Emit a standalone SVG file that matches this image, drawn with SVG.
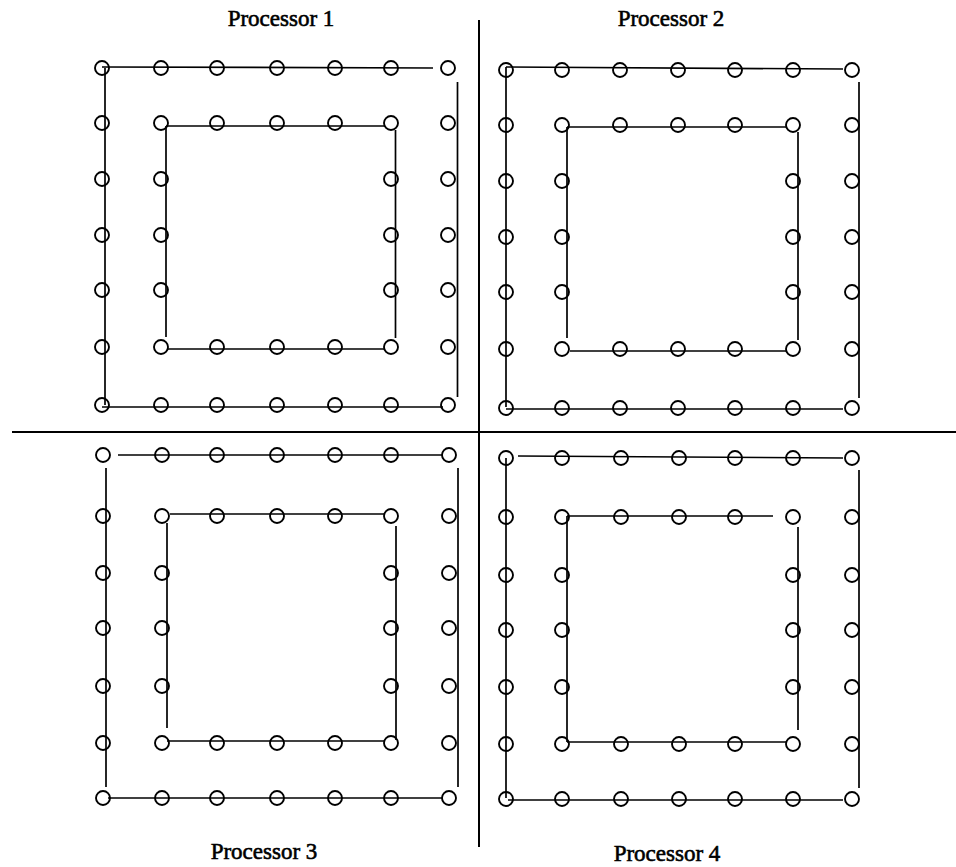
<svg xmlns="http://www.w3.org/2000/svg" width="956" height="867" viewBox="0 0 956 867">
<style>
.n{fill:none;stroke:#000;stroke-width:1.9}
.l{fill:none;stroke:#000;stroke-width:1.7}
.sep{fill:none;stroke:#000;stroke-width:2}
.t{font-family:"Liberation Serif","Times New Roman",serif;font-size:23px;fill:#000;stroke:#000;stroke-width:0.6;text-anchor:middle}
</style>
<rect width="956" height="867" fill="#fff"/>
<g id="separators">
<line class="sep" x1="479" y1="20" x2="479" y2="847"/>
<line class="sep" x1="12" y1="432" x2="956" y2="432"/>
</g>
<g id="connectors">
<line class="l" x1="102" y1="67" x2="433" y2="68"/>
<line class="l" x1="105" y1="68" x2="105" y2="405"/>
<line class="l" x1="457.5" y1="82" x2="457.5" y2="397"/>
<line class="l" x1="102" y1="407" x2="443" y2="407"/>
<line class="l" x1="166" y1="126" x2="385" y2="126"/>
<line class="l" x1="166" y1="126" x2="166" y2="337"/>
<line class="l" x1="168" y1="349" x2="385" y2="349"/>
<line class="l" x1="395.5" y1="130" x2="395.5" y2="338"/>
<line class="l" x1="506" y1="67" x2="843" y2="69"/>
<line class="l" x1="506" y1="67" x2="506" y2="407"/>
<line class="l" x1="859" y1="82" x2="859" y2="398"/>
<line class="l" x1="506" y1="409" x2="843" y2="409"/>
<line class="l" x1="567" y1="127" x2="787" y2="127"/>
<line class="l" x1="567" y1="127" x2="567" y2="338"/>
<line class="l" x1="570" y1="351" x2="787" y2="351"/>
<line class="l" x1="798" y1="132" x2="798" y2="340"/>
<line class="l" x1="118" y1="455" x2="443" y2="455"/>
<line class="l" x1="106" y1="468" x2="106" y2="787"/>
<line class="l" x1="458" y1="468" x2="458" y2="787"/>
<line class="l" x1="108" y1="798" x2="443" y2="798"/>
<line class="l" x1="170" y1="514" x2="385" y2="514"/>
<line class="l" x1="167" y1="523" x2="167" y2="728"/>
<line class="l" x1="167" y1="741" x2="385" y2="741"/>
<line class="l" x1="396" y1="526" x2="396" y2="740"/>
<line class="l" x1="518" y1="456" x2="843" y2="458"/>
<line class="l" x1="506" y1="458" x2="506" y2="798"/>
<line class="l" x1="859" y1="470" x2="859" y2="788"/>
<line class="l" x1="508" y1="800" x2="843" y2="800"/>
<line class="l" x1="567" y1="516" x2="773" y2="516"/>
<line class="l" x1="567" y1="516" x2="567" y2="742"/>
<line class="l" x1="567" y1="742" x2="787" y2="742"/>
<line class="l" x1="798" y1="527" x2="798" y2="730"/>
</g>
<g id="processor1">
<text class="t" x="281" y="26">Processor 1</text>
<g id="p1-outer">
<circle class="n" cx="102" cy="68" r="7"/><circle class="n" cx="161" cy="68" r="7"/><circle class="n" cx="217" cy="68" r="7"/><circle class="n" cx="277" cy="68" r="7"/><circle class="n" cx="335" cy="68" r="7"/><circle class="n" cx="391" cy="68" r="7"/><circle class="n" cx="448" cy="68" r="7"/>
<circle class="n" cx="102" cy="123" r="7"/><circle class="n" cx="102" cy="179" r="7"/><circle class="n" cx="102" cy="235" r="7"/><circle class="n" cx="102" cy="290" r="7"/><circle class="n" cx="102" cy="347" r="7"/>
<circle class="n" cx="448" cy="123" r="7"/><circle class="n" cx="448" cy="179" r="7"/><circle class="n" cx="448" cy="235" r="7"/><circle class="n" cx="448" cy="290" r="7"/><circle class="n" cx="448" cy="347" r="7"/>
<circle class="n" cx="102" cy="405" r="7"/><circle class="n" cx="161" cy="405" r="7"/><circle class="n" cx="217" cy="405" r="7"/><circle class="n" cx="277" cy="405" r="7"/><circle class="n" cx="335" cy="405" r="7"/><circle class="n" cx="391" cy="405" r="7"/><circle class="n" cx="448" cy="405" r="7"/>
</g>
<g id="p1-inner">
<circle class="n" cx="161" cy="123" r="7"/><circle class="n" cx="217" cy="123" r="7"/><circle class="n" cx="277" cy="123" r="7"/><circle class="n" cx="335" cy="123" r="7"/><circle class="n" cx="391" cy="123" r="7"/>
<circle class="n" cx="161" cy="179" r="7"/><circle class="n" cx="161" cy="235" r="7"/><circle class="n" cx="161" cy="290" r="7"/>
<circle class="n" cx="391" cy="179" r="7"/><circle class="n" cx="391" cy="235" r="7"/><circle class="n" cx="391" cy="290" r="7"/>
<circle class="n" cx="161" cy="347" r="7"/><circle class="n" cx="217" cy="347" r="7"/><circle class="n" cx="277" cy="347" r="7"/><circle class="n" cx="335" cy="347" r="7"/><circle class="n" cx="391" cy="347" r="7"/>
</g>
</g>
<g id="processor2">
<text class="t" x="671" y="26">Processor 2</text>
<g id="p2-outer">
<circle class="n" cx="506" cy="70" r="7"/><circle class="n" cx="562" cy="70" r="7"/><circle class="n" cx="620" cy="70" r="7"/><circle class="n" cx="678" cy="70" r="7"/><circle class="n" cx="735" cy="70" r="7"/><circle class="n" cx="793" cy="70" r="7"/><circle class="n" cx="852" cy="70" r="7"/>
<circle class="n" cx="506" cy="125" r="7"/><circle class="n" cx="506" cy="181" r="7"/><circle class="n" cx="506" cy="237" r="7"/><circle class="n" cx="506" cy="292" r="7"/><circle class="n" cx="506" cy="349" r="7"/>
<circle class="n" cx="852" cy="125" r="7"/><circle class="n" cx="852" cy="181" r="7"/><circle class="n" cx="852" cy="237" r="7"/><circle class="n" cx="852" cy="292" r="7"/><circle class="n" cx="852" cy="349" r="7"/>
<circle class="n" cx="506" cy="408" r="7"/><circle class="n" cx="562" cy="408" r="7"/><circle class="n" cx="620" cy="408" r="7"/><circle class="n" cx="678" cy="408" r="7"/><circle class="n" cx="735" cy="408" r="7"/><circle class="n" cx="793" cy="408" r="7"/><circle class="n" cx="852" cy="408" r="7"/>
</g>
<g id="p2-inner">
<circle class="n" cx="562" cy="125" r="7"/><circle class="n" cx="620" cy="125" r="7"/><circle class="n" cx="678" cy="125" r="7"/><circle class="n" cx="735" cy="125" r="7"/><circle class="n" cx="793" cy="125" r="7"/>
<circle class="n" cx="562" cy="181" r="7"/><circle class="n" cx="562" cy="237" r="7"/><circle class="n" cx="562" cy="292" r="7"/>
<circle class="n" cx="793" cy="181" r="7"/><circle class="n" cx="793" cy="237" r="7"/><circle class="n" cx="793" cy="292" r="7"/>
<circle class="n" cx="562" cy="349" r="7"/><circle class="n" cx="620" cy="349" r="7"/><circle class="n" cx="678" cy="349" r="7"/><circle class="n" cx="735" cy="349" r="7"/><circle class="n" cx="793" cy="349" r="7"/>
</g>
</g>
<g id="processor3">
<text class="t" x="264" y="859">Processor 3</text>
<g id="p3-outer">
<circle class="n" cx="103" cy="455" r="7"/><circle class="n" cx="162" cy="455" r="7"/><circle class="n" cx="217" cy="455" r="7"/><circle class="n" cx="277" cy="455" r="7"/><circle class="n" cx="335" cy="455" r="7"/><circle class="n" cx="391" cy="455" r="7"/><circle class="n" cx="449" cy="455" r="7"/>
<circle class="n" cx="103" cy="516" r="7"/><circle class="n" cx="103" cy="573" r="7"/><circle class="n" cx="103" cy="628" r="7"/><circle class="n" cx="103" cy="686" r="7"/><circle class="n" cx="103" cy="743" r="7"/>
<circle class="n" cx="449" cy="516" r="7"/><circle class="n" cx="449" cy="573" r="7"/><circle class="n" cx="449" cy="628" r="7"/><circle class="n" cx="449" cy="686" r="7"/><circle class="n" cx="449" cy="743" r="7"/>
<circle class="n" cx="103" cy="798" r="7"/><circle class="n" cx="162" cy="798" r="7"/><circle class="n" cx="217" cy="798" r="7"/><circle class="n" cx="277" cy="798" r="7"/><circle class="n" cx="335" cy="798" r="7"/><circle class="n" cx="391" cy="798" r="7"/><circle class="n" cx="449" cy="798" r="7"/>
</g>
<g id="p3-inner">
<circle class="n" cx="162" cy="516" r="7"/><circle class="n" cx="217" cy="516" r="7"/><circle class="n" cx="277" cy="516" r="7"/><circle class="n" cx="335" cy="516" r="7"/><circle class="n" cx="391" cy="516" r="7"/>
<circle class="n" cx="162" cy="573" r="7"/><circle class="n" cx="162" cy="628" r="7"/><circle class="n" cx="162" cy="686" r="7"/>
<circle class="n" cx="391" cy="573" r="7"/><circle class="n" cx="391" cy="628" r="7"/><circle class="n" cx="391" cy="686" r="7"/>
<circle class="n" cx="162" cy="743" r="7"/><circle class="n" cx="217" cy="743" r="7"/><circle class="n" cx="277" cy="743" r="7"/><circle class="n" cx="335" cy="743" r="7"/><circle class="n" cx="391" cy="743" r="7"/>
</g>
</g>
<g id="processor4">
<text class="t" x="667" y="861">Processor 4</text>
<g id="p4-outer">
<circle class="n" cx="506" cy="458" r="7"/><circle class="n" cx="562" cy="458" r="7"/><circle class="n" cx="621" cy="458" r="7"/><circle class="n" cx="679" cy="458" r="7"/><circle class="n" cx="735" cy="458" r="7"/><circle class="n" cx="793" cy="458" r="7"/><circle class="n" cx="852" cy="458" r="7"/>
<circle class="n" cx="506" cy="517" r="7"/><circle class="n" cx="506" cy="575" r="7"/><circle class="n" cx="506" cy="630" r="7"/><circle class="n" cx="506" cy="687" r="7"/><circle class="n" cx="506" cy="744" r="7"/>
<circle class="n" cx="852" cy="517" r="7"/><circle class="n" cx="852" cy="575" r="7"/><circle class="n" cx="852" cy="630" r="7"/><circle class="n" cx="852" cy="687" r="7"/><circle class="n" cx="852" cy="744" r="7"/>
<circle class="n" cx="506" cy="799" r="7"/><circle class="n" cx="562" cy="799" r="7"/><circle class="n" cx="621" cy="799" r="7"/><circle class="n" cx="679" cy="799" r="7"/><circle class="n" cx="735" cy="799" r="7"/><circle class="n" cx="793" cy="799" r="7"/><circle class="n" cx="852" cy="799" r="7"/>
</g>
<g id="p4-inner">
<circle class="n" cx="562" cy="517" r="7"/><circle class="n" cx="621" cy="517" r="7"/><circle class="n" cx="679" cy="517" r="7"/><circle class="n" cx="735" cy="517" r="7"/><circle class="n" cx="793" cy="517" r="7"/>
<circle class="n" cx="562" cy="575" r="7"/><circle class="n" cx="562" cy="630" r="7"/><circle class="n" cx="562" cy="687" r="7"/>
<circle class="n" cx="793" cy="575" r="7"/><circle class="n" cx="793" cy="630" r="7"/><circle class="n" cx="793" cy="687" r="7"/>
<circle class="n" cx="562" cy="744" r="7"/><circle class="n" cx="621" cy="744" r="7"/><circle class="n" cx="679" cy="744" r="7"/><circle class="n" cx="735" cy="744" r="7"/><circle class="n" cx="793" cy="744" r="7"/>
</g>
</g>
</svg>
